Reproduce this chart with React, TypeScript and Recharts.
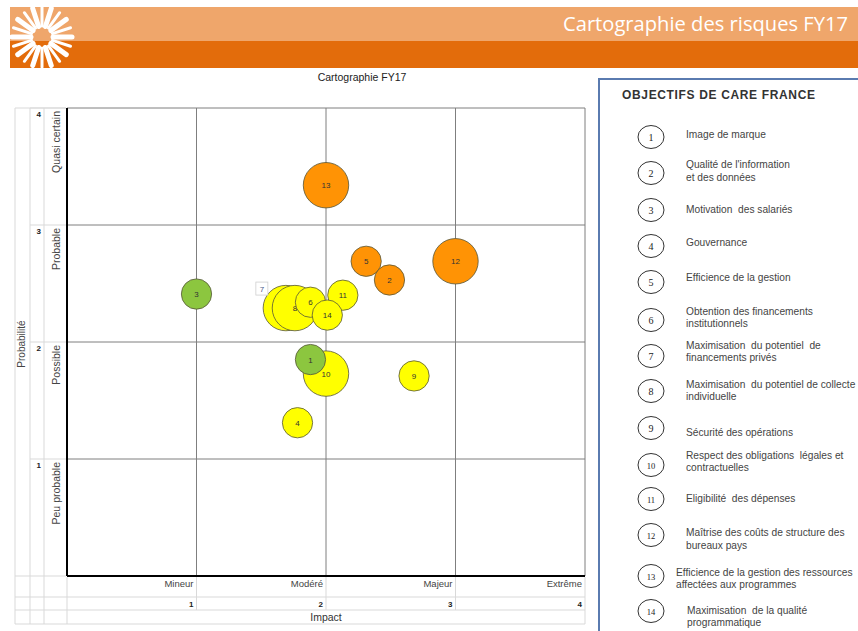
import React from 'react';
import { ScatterChart, Scatter, XAxis, YAxis, ZAxis, CartesianGrid } from 'recharts';

// risques : numéro, impact (x), probabilité (y), poids (taille de bulle), niveau
const ids = [13, 12, 5, 2, 3, 7, 8, 6, 11, 14, 10, 1, 9, 4];
const impact = [2.0, 3.0, 2.31, 2.49, 1.0, 1.69, 1.76, 1.88, 2.13, 2.01, 2.0, 1.88, 2.68, 1.78];
const probabilite = [3.34, 2.69, 2.69, 2.53, 2.41, 2.29, 2.29, 2.34, 2.4, 2.23, 1.73, 1.85, 1.71, 1.31];
const poids = [9, 9, 4, 4, 4, 9, 9, 4, 4, 4, 9, 4, 4, 4];
const niveau = ['fort', 'fort', 'fort', 'fort', 'faible', 'moyen', 'moyen', 'moyen', 'moyen', 'moyen', 'moyen', 'faible', 'moyen', 'moyen'];

const impactTicks = [1, 2, 3, 4];
const impactLabels = ['Mineur', 'Modéré', 'Majeur', 'Extrême'];
const probaTicks = [1, 2, 3, 4];
const probaLabels = ['Peu probable', 'Possible', 'Probable', 'Quasi certain'];

const objectifNums = [1, 2, 3, 4, 5, 6, 7, 8, 9, 10, 11, 12, 13, 14];
const objectifTextes = [
  ['Image de marque'],
  ["Qualité de l'information", 'et des données'],
  ['Motivation  des salariés'],
  ['Gouvernance'],
  ['Efficience de la gestion'],
  ['Obtention des financements', 'institutionnels'],
  ['Maximisation  du potentiel  de', 'financements privés'],
  ['Maximisation  du potentiel de collecte', 'individuelle'],
  ['Sécurité des opérations'],
  ['Respect des obligations  légales et', 'contractuelles'],
  ['Eligibilité  des dépenses'],
  ['Maîtrise des coûts de structure des', 'bureaux pays'],
  ['Efficience de la gestion des ressources', 'affectées aux programmes'],
  ['Maximisation  de la qualité', 'programmatique'],
];

const COLORS: Record<string, string> = { fort: '#FF9305', moyen: '#FFFF00', faible: '#8CC63F' };
const FONT = '"Liberation Sans", Arial, sans-serif';
const GRID = '#d9d9d9';

const data = ids.map((id, i) => ({ id, x: impact[i], y: probabilite[i], z: poids[i], niveau: niveau[i] }));

// positions verticales des lignes de la légende (mise en page)
const rowCircleY = [137, 173, 210, 246, 282, 320, 356, 391, 428, 465, 499, 535, 576, 611];
const rowTextY = [[134], [164, 177], [209], [242], [277], [311, 323], [345, 357], [384, 396], [432], [455, 467], [498], [532, 545], [572, 584], [610, 622]];
const rowTextX = [686, 686, 686, 686, 686, 686, 686, 686, 686, 686, 686, 686, 676, 687];

function Bubble(props: any) {
  const { cx, cy, width, payload } = props;
  const r = width / 2;
  return (
    <g>
      <circle cx={cx} cy={cy} r={r} fill={COLORS[payload.niveau]} stroke="#55553a" strokeWidth={0.8} />
      {payload.id === 7 ? (
        <g>
          <rect x={cx - 30} y={cy - 26} width={12} height={13} fill="#fff" stroke="#cfcfcf" strokeWidth={0.8} />
          <text x={cx - 24} y={cy - 16} fontSize={8} fill="#4a5a8a" textAnchor="middle" fontFamily={FONT}>7</text>
        </g>
      ) : (
        <text x={cx} y={cy + 3} fontSize={8} fill="#333" textAnchor="middle" fontFamily={FONT}>{payload.id}</text>
      )}
    </g>
  );
}

function ImpactTick(props: any) {
  const { x, payload } = props;
  const i = impactTicks.indexOf(payload.value);
  return (
    <g>
      <line x1={x} x2={x} y1={577} y2={payload.value === 4 ? 624 : 610} stroke={GRID} />
      <text x={x - 3} y={587} fontSize={9.5} fill="#444" textAnchor="end" fontFamily={FONT}>{impactLabels[i]}</text>
      <text x={x - 3} y={607} fontSize={8} fontWeight="bold" fill="#222" textAnchor="end" fontFamily={FONT}>{payload.value}</text>
    </g>
  );
}

function ProbaTick(props: any) {
  const { y, payload } = props;
  const i = probaTicks.indexOf(payload.value);
  return (
    <g>
      <line x1={30} x2={66} y1={y} y2={y} stroke={GRID} />
      <text x={41} y={y + 9} fontSize={8} fontWeight="bold" fill="#222" textAnchor="end" fontFamily={FONT}>{payload.value}</text>
      <text transform={`translate(60, ${y + 3}) rotate(-90)`} fontSize={10.5} fill="#444" textAnchor="end" fontFamily={FONT}>{probaLabels[i]}</text>
    </g>
  );
}

function Logo() {
  const rays = [];
  for (let k = 0; k < 20; k++) {
    const a = (k / 20) * Math.PI * 2;
    const cx = 42, cy = 37;
    rays.push(
      <line key={k} x1={cx + Math.cos(a) * 11} y1={cy + Math.sin(a) * 11} x2={cx + Math.cos(a) * 30} y2={cy + Math.sin(a) * 30}
        stroke="#fff" strokeWidth={k % 2 ? 3 : 5} strokeLinecap="round" />
    );
  }
  return (
    <g>
      <clipPath id="logoclip"><rect x={10} y={7} width={80} height={61} /></clipPath>
      <g clipPath="url(#logoclip)">{rays}</g>
    </g>
  );
}

export default function App() {
  return (
    <div style={{ position: 'fixed', left: 0, top: 0, width: 858, height: 631, background: '#fff', overflow: 'hidden' }}>
      <svg width={858} height={631} style={{ position: 'absolute', left: 0, top: 0 }}>
        {/* bandeau */}
        <rect x={10} y={7} width={848} height={34} fill="#EFA66B" />
        <rect x={10} y={41} width={848} height={27} fill="#E36C0B" />
        <Logo />
        <text x={563} y={31} fontSize={20} fill="#fff" textLength={285} lengthAdjust="spacingAndGlyphs" fontFamily='"Open Sans", "Noto Sans", sans-serif'>Cartographie des risques FY17</text>
        <text x={362} y={81} fontSize={10.5} fill="#222" textAnchor="middle" fontFamily={FONT}>Cartographie FY17</text>
        {/* cadre du tableau */}
        <line x1={15} x2={66} y1={108} y2={108} stroke={GRID} />
        <line x1={15} x2={15} y1={108} y2={624} stroke={GRID} />
        <line x1={30} x2={30} y1={108} y2={624} stroke={GRID} />
        <line x1={44} x2={44} y1={108} y2={624} stroke={GRID} />
        <line x1={67} x2={67} y1={577} y2={624} stroke={GRID} />
        <line x1={15} x2={66} y1={576} y2={576} stroke={GRID} />
        <line x1={15} x2={585} y1={597} y2={597} stroke={GRID} />
        <line x1={15} x2={585} y1={610} y2={610} stroke={GRID} />
        <line x1={15} x2={585} y1={624} y2={624} stroke={GRID} />
        <text x={326} y={621} fontSize={10.5} fill="#333" textAnchor="middle" fontFamily={FONT}>Impact</text>
        <text transform="translate(25, 344) rotate(-90)" fontSize={10} fill="#444" textAnchor="middle" fontFamily={FONT}>Probabilité</text>
      </svg>
      <div style={{ position: 'absolute', left: 0, top: 0 }}>
        <ScatterChart width={858} height={631} margin={{ top: 108, right: 273, bottom: 7, left: 15 }}>
          <CartesianGrid stroke="#7f7f7f" strokeWidth={1} />
          <XAxis type="number" dataKey="x" domain={[0, 4]} ticks={impactTicks} height={48}
            axisLine={{ stroke: '#000', strokeWidth: 2 }} tickLine={false} tick={<ImpactTick />} interval={0} />
          <YAxis type="number" dataKey="y" domain={[0, 4]} ticks={probaTicks} width={52}
            axisLine={{ stroke: '#000', strokeWidth: 2 }} tickLine={false} tick={<ProbaTick />} interval={0} />
          <ZAxis type="number" dataKey="z" domain={[0, 9]} range={[0, 1620]} />
          <Scatter data={data} shape={<Bubble />} isAnimationActive={false} />
        </ScatterChart>
      </div>
      <svg width={858} height={631} style={{ position: 'absolute', left: 0, top: 0, pointerEvents: 'none' }}>
        <rect x={599} y={79} width={300} height={600} fill="none" stroke="#5a7bb0" strokeWidth={2} />
        <text x={622} y={99} fontSize={12} fontWeight="bold" fill="#333" textLength={193} lengthAdjust="spacing" fontFamily={FONT}>OBJECTIFS DE CARE FRANCE</text>
        {objectifNums.map((n, i) => (
          <g key={n}>
            <ellipse cx={651} cy={rowCircleY[i]} rx={13} ry={11.5} fill="#fff" stroke="#333" strokeWidth={1} />
            <text x={651} y={rowCircleY[i] + 3.5} fontSize={n > 9 ? 8.5 : 10} fill="#222" textAnchor="middle" fontFamily='"Liberation Serif", serif'>{n}</text>
            {objectifTextes[i].map((t, j) => (
              <text key={j} x={rowTextX[i]} y={rowTextY[i][j] + 3.5} fontSize={10.2} fill="#444" fontFamily={FONT} style={{ whiteSpace: 'pre' }}>{t}</text>
            ))}
          </g>
        ))}
      </svg>
    </div>
  );
}
